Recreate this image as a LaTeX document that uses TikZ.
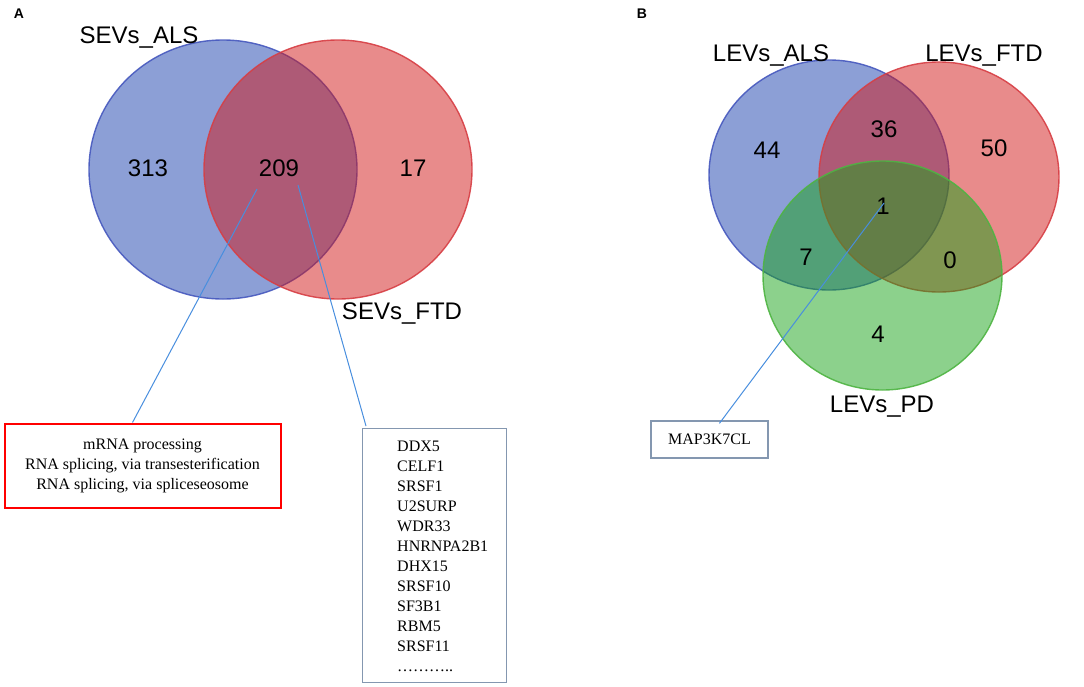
\documentclass[tikz,border=0pt]{standalone}
\usepackage{fontspec}
\setmainfont{Liberation Serif}
\newfontfamily\arialf{Liberation Sans}
\definecolor{vblue}{RGB}{25,63,173}
\definecolor{vred}{RGB}{209,23,23}
\definecolor{vgreen}{RGB}{25,163,25}
\definecolor{lblue}{RGB}{70,88,190}
\definecolor{lred}{RGB}{215,62,68}
\definecolor{lgreen}{RGB}{78,180,66}
\definecolor{conn}{RGB}{72,142,222}
\definecolor{boxgray}{RGB}{132,151,176}
\tikzset{
  setblue/.style={fill=vblue, fill opacity=0.5, draw=lblue, draw opacity=0.9, line width=1.4pt},
  setred/.style={fill=vred, fill opacity=0.5, draw=lred, draw opacity=0.9, line width=1.4pt},
  setgreen/.style={fill=vgreen, fill opacity=0.5, draw=lgreen, draw opacity=0.9, line width=1.4pt},
  setlabel/.style={font=\arialf\fontsize{24}{28}\selectfont, anchor=base, inner sep=0pt},
  count/.style={font=\arialf\fontsize{24}{28}\selectfont, inner sep=0pt},
  panel/.style={font=\arialf\bfseries\fontsize{14}{16}\selectfont, inner sep=0pt},
  connector/.style={draw=conn, line width=1pt},
  termbox/.style={draw=red, line width=2pt, minimum width=276pt, minimum height=84pt, align=center, inner sep=0pt, font=\fontsize{16}{20}\selectfont},
  genebox/.style={draw=boxgray, line width=1.2pt, minimum width=144pt, minimum height=254pt, anchor=north west, inner sep=0pt},
  genetext/.style={align=left, anchor=north west, inner sep=0pt, font=\fontsize{16}{20}\selectfont},
  mapbox/.style={draw=boxgray, line width=1.2pt, minimum width=117pt, minimum height=37pt, inner sep=0pt, font=\fontsize{16}{20}\selectfont}
}
\begin{document}
\begin{tikzpicture}[x=1pt,y=-1pt]
\useasboundingbox (0,0) rectangle (1084,686);
% Panel A
\node[panel] (pA) at (19,14) {A};
\draw[setblue] (223,169.5) ellipse [x radius=134, y radius=129.5];
\draw[setred] (338,169.5) ellipse [x radius=134, y radius=129.5];
\node[setlabel] (sevals) at (139,43) {SEVs\_ALS};
\node[setlabel] (sevftd) at (402,319) {SEVs\_FTD};
\node[count] (n313) at (148,168) {313};
\node[count] (n209) at (279,168) {209};
\node[count] (n17) at (413,168) {17};
\coordinate (a1) at (257,189);
\coordinate (a2) at (298,185);
\node[termbox] (terms) at (142.5,465.5) {mRNA processing\\RNA splicing, via transesterification\\RNA splicing, via spliceseosome};
\node[genebox] (genes) at (362,428) {};
\node[genetext] (genelist) at (397,441) {DDX5\\CELF1\\SRSF1\\U2SURP\\WDR33\\HNRNPA2B1\\DHX15\\SRSF10\\SF3B1\\RBM5\\SRSF11\\………..};
\draw[connector] (a1) -- ([xshift=129pt]terms.north west);
\draw[connector] (a2) -- ([xshift=4pt,yshift=2pt]genes.north west);
% Panel B
\node[panel] (pB) at (642,14) {B};
\draw[setblue] (829,175) ellipse [x radius=120, y radius=115];
\draw[setred] (939,177) ellipse [x radius=120, y radius=115];
\draw[setgreen] (882.5,275.5) ellipse [x radius=119.5, y radius=114.5];
\node[setlabel] (levals) at (771,61) {LEVs\_ALS};
\node[setlabel] (levftd) at (984,61) {LEVs\_FTD};
\node[setlabel] (levpd) at (882,412) {LEVs\_PD};
\node[count] (n44) at (767,150) {44};
\node[count] (n36) at (884,129) {36};
\node[count] (n50) at (994,148) {50};
\node[count] (n1) at (883,206) {1};
\node[count] (n7) at (806,257) {7};
\node[count] (n0) at (950,260) {0};
\node[count] (n4) at (878,334) {4};
\coordinate (b1) at (884,203);
\node[mapbox] (map) at (709.5,439.5) {MAP3K7CL};
\draw[connector] (b1) -- ([xshift=69pt,yshift=-3pt]map.north west);
\end{tikzpicture}
\end{document}
